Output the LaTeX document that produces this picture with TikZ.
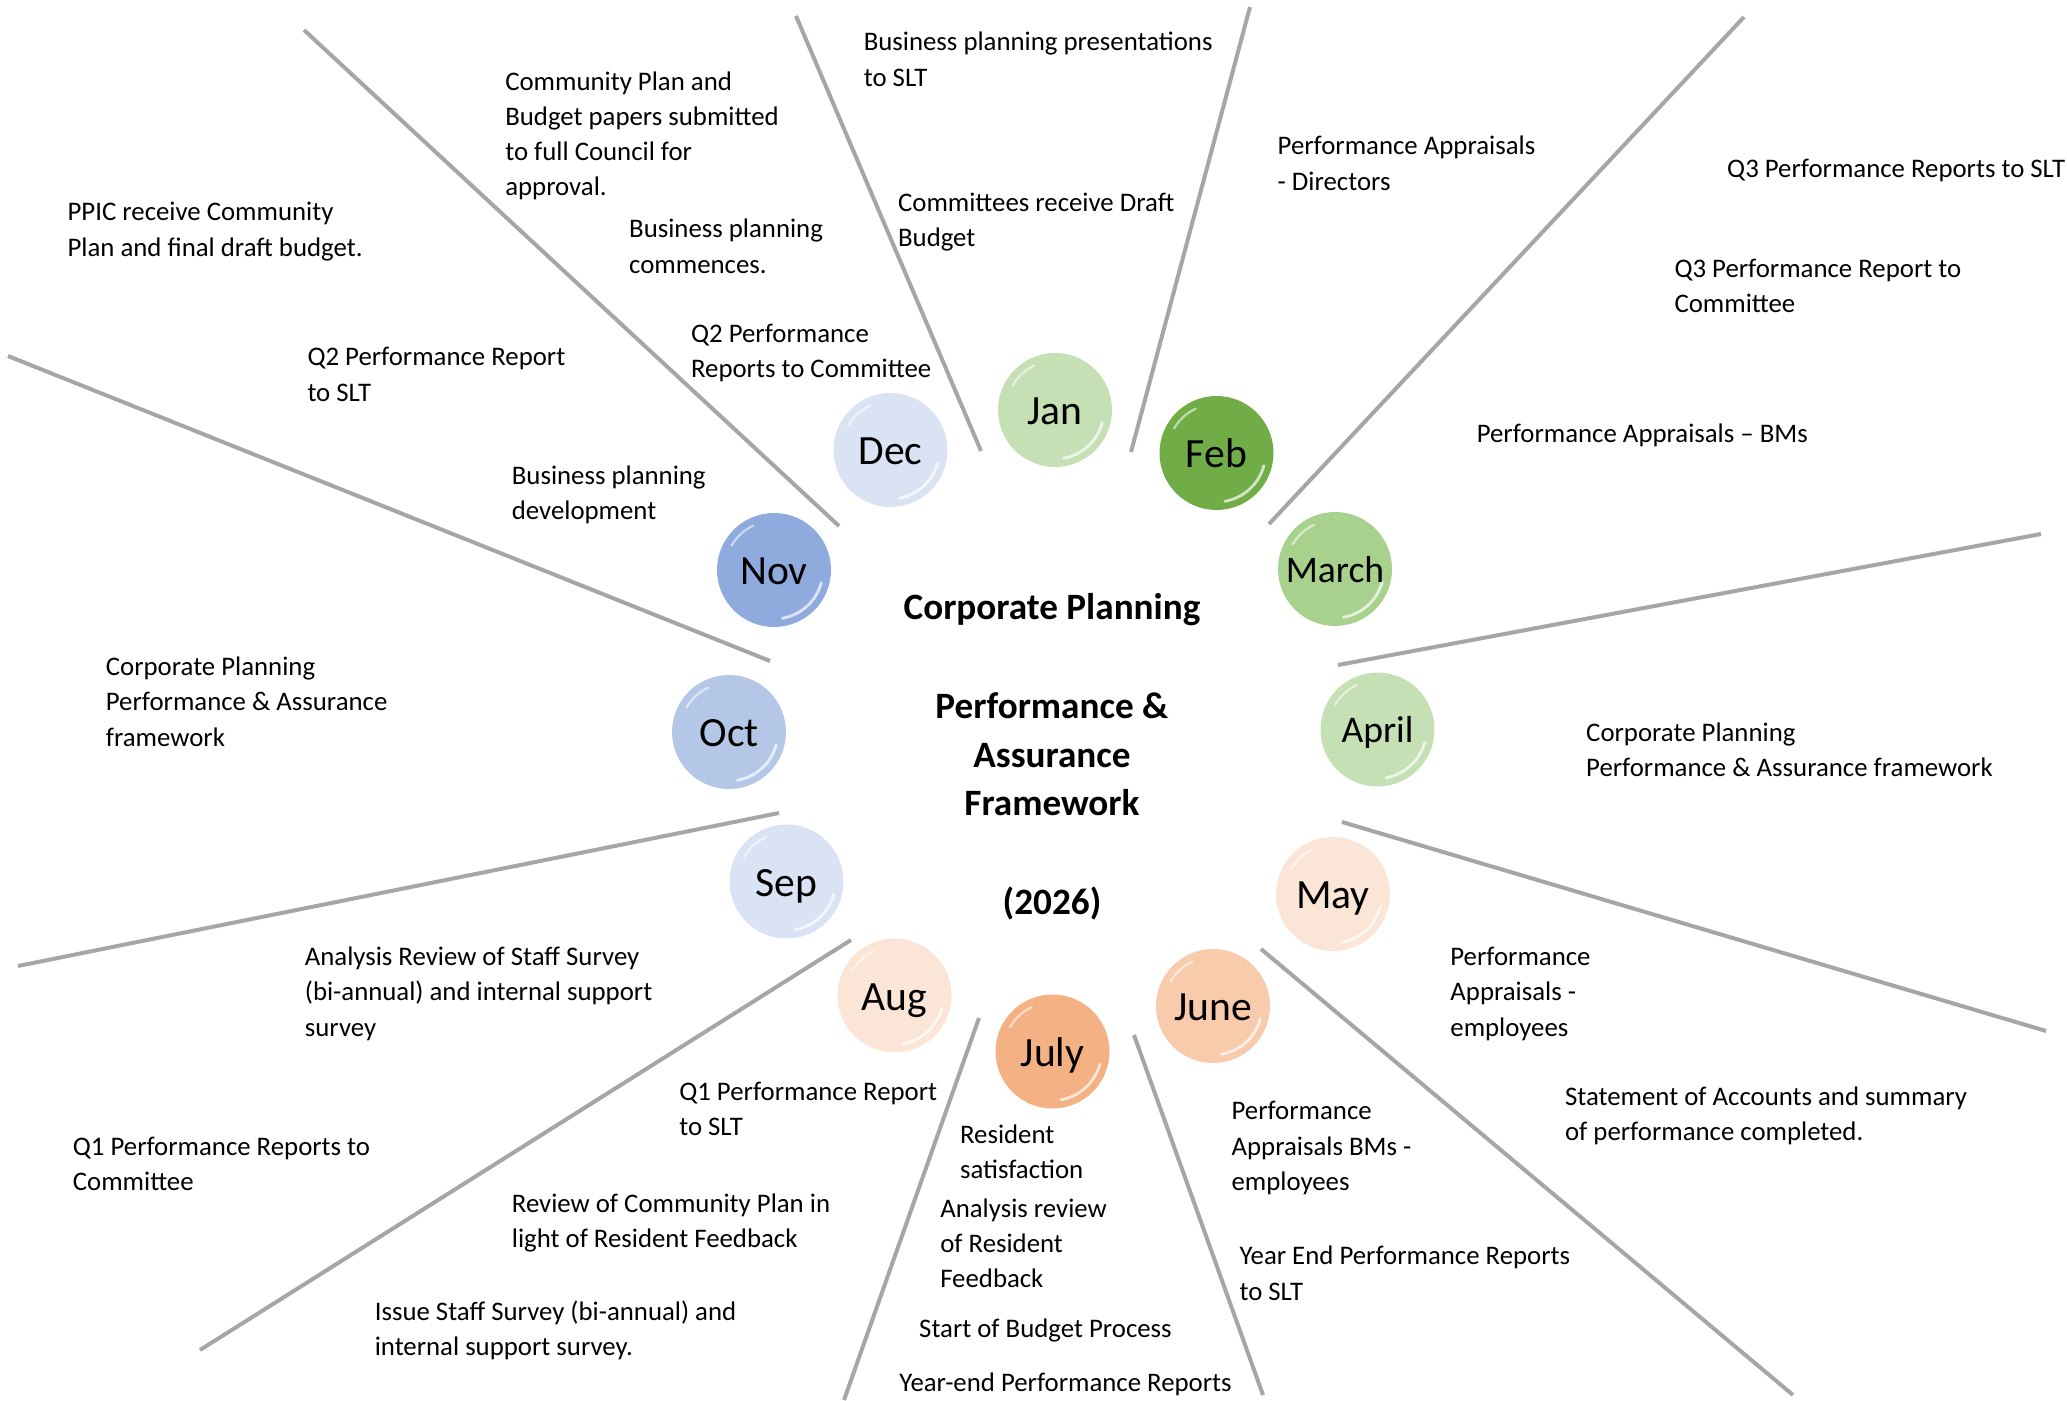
\documentclass[tikz,border=0pt]{standalone}
\usepackage{fontspec}
\setmainfont{Carlito}

\definecolor{lineGray}{HTML}{A6A6A6}
\definecolor{janC}{HTML}{C5E0B4}
\definecolor{febC}{HTML}{70AD47}
\definecolor{marC}{HTML}{A9D18E}
\definecolor{aprC}{HTML}{C5E0B4}
\definecolor{mayC}{HTML}{FBE5D6}
\definecolor{junC}{HTML}{F8CBAD}
\definecolor{julC}{HTML}{F4B183}
\definecolor{augC}{HTML}{FBE5D6}
\definecolor{sepC}{HTML}{DAE3F3}
\definecolor{octC}{HTML}{B4C7E7}
\definecolor{novC}{HTML}{8FAADC}
\definecolor{decC}{HTML}{DAE3F3}

\tikzset{
  month/.style={circle,inner sep=0pt,minimum size=57pt,fill=#1,
    font=\fontsize{20.8}{24}\selectfont,text height=14.5pt,text depth=0pt,
    path picture={
      \draw[white,opacity=.7,line width=1.4pt,line cap=round]
        ([shift={(-15:24.5pt)}]path picture bounding box.center) arc[start angle=-15,end angle=-80,radius=24.5pt];
      \draw[white,opacity=.55,line width=1.1pt,line cap=round]
        ([shift={(150:24.5pt)}]path picture bounding box.center) arc[start angle=150,end angle=115,radius=24.5pt];
    }},
  small month/.style={font=\fontsize{18.8}{22}\selectfont,text height=13pt},
  divider/.style={draw=lineGray,line width=2pt},
  % base = last line of the label
  lbl/.style={anchor=base west,inner sep=0pt,align=left,font=\fontsize{13.4}{17.6}\selectfont},
  title/.style={anchor=base,inner sep=0pt,align=center,font=\fontsize{18.6}{24.3}\selectfont\bfseries}
}

\begin{document}
\begin{tikzpicture}[x=0.5pt,y=0.5pt,yscale=-1,xscale=1]
\path[use as bounding box] (0,0) rectangle (2067,1401);

%Dividers
\draw[divider] (796,16) -- (981,451);
\draw[divider] (1250,7) -- (1131,452);
\draw[divider] (1744,17) -- (1269,524);
\draw[divider] (2041,534) -- (1338,665);
\draw[divider] (1342,822) -- (2046,1031);
\draw[divider] (1261,949) -- (1793,1395);
\draw[divider] (1134,1035) -- (1263,1395);
\draw[divider] (979,1018) -- (844,1400);
\draw[divider] (851,940) -- (200,1350);
\draw[divider] (779,813) -- (18,966);
\draw[divider] (770,661) -- (8,356);
\draw[divider] (839,526) -- (304,30);

%Months
\node[month=janC] (jan) at (1055,410) {Jan};
\node[month=febC] (feb) at (1216.5,453) {Feb};
\node[month=marC,small month] (mar) at (1335,569) {March};
\node[month=aprC,small month] (apr) at (1377.5,729.5) {April};
\node[month=mayC] (may) at (1333,894) {May};
\node[month=junC] (jun) at (1213,1006) {June};
\node[month=julC] (jul) at (1052.5,1051.5) {July};
\node[month=augC] (aug) at (894.5,995.5) {Aug};
\node[month=sepC] (sep) at (786.5,881.5) {Sep};
\node[month=octC] (oct) at (729,732) {Oct};
\node[month=novC] (nov) at (774,570) {Nov};
\node[month=decC] (dec) at (890.5,450) {Dec};

%Centre
\node[title] (cpTitle) at (1052,619) {Corporate Planning};
\node[title] (paTitle) at (1052,815.6) {Performance \&\\Assurance\\Framework};
\node[title] (yrTitle) at (1052,914) {(2026)};

% Text Node
\node[lbl] (janA) at (863.4,86.1) {Business planning presentations\\to SLT};
% Text Node
\node[lbl] (janB) at (897.7,246.9) {Committees receive Draft\\Budget};
% Text Node
\node[lbl] (febA) at (1277.3,190.2) {Performance Appraisals\\- Directors};
% Text Node
\node[lbl] (marA) at (1726.8,177.4) {Q3 Performance Reports to SLT};
% Text Node
\node[lbl] (marB) at (1674.1,312.8) {Q3 Performance Report to\\Committee};
% Text Node
\node[lbl] (marC) at (1476.4,442.4) {Performance Appraisals – BMs};
% Text Node
\node[lbl] (aprA) at (1585.8,776.8) {Corporate Planning\\Performance \& Assurance framework};
% Text Node
\node[lbl] (mayA) at (1450,1036.1) {Performance\\Appraisals -\\employees};
% Text Node
\node[lbl] (mayB) at (1564.7,1140.6) {Statement of Accounts and summary\\of performance completed.};
% Text Node
\node[lbl] (junA) at (1231.2,1190.3) {Performance\\Appraisals BMs -\\employees};
% Text Node
\node[lbl] (junB) at (1239.1,1300.1) {Year End Performance Reports\\to SLT};
% Text Node
\node[lbl] (julA) at (959.7,1178.9) {Resident\\satisfaction};
% Text Node
\node[lbl] (julB) at (939.9,1287.9) {Analysis review\\of Resident\\Feedback};
% Text Node
\node[lbl] (julC) at (918.8,1337.4) {Start of Budget Process};
% Text Node
\node[lbl] (julD) at (899,1391.5) {Year-end Performance Reports};
% Text Node
\node[lbl] (augA) at (678.9,1135.2) {Q1 Performance Report\\to SLT};
% Text Node
\node[lbl] (augB) at (511.5,1247.4) {Review of Community Plan in\\light of Resident Feedback};
% Text Node
\node[lbl] (augC) at (374.4,1355.5) {Issue Staff Survey (bi-annual) and\\internal support survey.};
% Text Node
\node[lbl] (sepA) at (304.5,1036.1) {Analysis Review of Staff Survey\\(bi-annual) and internal support\\survey};
% Text Node
\node[lbl] (sepB) at (72.5,1190.7) {Q1 Performance Reports to\\Committee};
% Text Node
\node[lbl] (octA) at (105.5,746.1) {Corporate Planning\\Performance \& Assurance\\framework};
% Text Node
\node[lbl] (novA) at (511.5,519.8) {Business planning\\development};
% Text Node
\node[lbl] (novB) at (307.1,401.1) {Q2 Performance Report\\to SLT};
% Text Node
\node[lbl] (decA) at (690.7,377.4) {Q2 Performance\\Reports to Committee};
% Text Node
\node[lbl] (decB) at (628.8,273.2) {Business planning\\commences.};
% Text Node
\node[lbl] (decC) at (504.9,196) {Community Plan and\\Budget papers submitted\\to full Council for\\approval.};
% Text Node
\node[lbl] (decD) at (67.2,256.1) {PPIC receive Community\\Plan and final draft budget.};

\end{tikzpicture}
\end{document}
